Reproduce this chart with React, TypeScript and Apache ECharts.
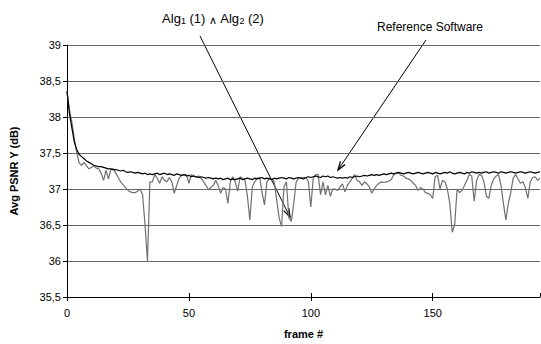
import React, { useEffect, useRef } from "react";
import * as echarts from "echarts";

const frames: number[] = Array.from({ length: 195 }, (_, i) => i);

const algValues: number[] = [
  38.36, 38.1, 37.93, 37.7, 37.5, 37.36, 37.33, 37.37, 37.32, 37.28,
  37.3, 37.32, 37.29, 37.28, 37.22, 37.12, 37.26, 37.14, 37.27, 37.28,
  37.22, 37.16, 37.1, 37.06, 37.02, 36.98, 36.96, 36.95, 36.95, 36.97,
  37.0, 36.92, 36.5, 36.0, 37.1, 37.1, 37.2, 37.15, 37.08, 37.17,
  37.12, 37.1, 37.16, 37.1, 36.94, 37.05, 37.15, 37.19, 37.2, 37.2,
  37.08, 37.2, 37.18, 37.16, 37.18, 37.15, 37.1, 37.05, 36.99, 37.02,
  37.05, 37.12, 37.05, 36.94, 37.02, 37.0, 36.8, 37.1, 37.17, 37.1,
  36.97, 37.17, 37.15, 37.12, 36.9, 36.57, 37.03, 37.1, 37.15, 37.16,
  36.95, 36.78, 37.1, 37.15, 37.14, 37.1, 36.85, 36.6, 36.48, 37.03,
  37.1, 36.6, 36.55, 36.8, 37.1, 37.15, 37.15, 37.16, 37.16, 37.1,
  36.75, 37.15, 37.2, 37.2, 36.92, 37.1, 36.92, 37.05, 36.9, 37.0,
  37.0, 36.98, 37.03, 37.07, 36.96, 37.05, 37.1, 37.15, 37.2, 37.12,
  37.1, 37.05, 37.1, 37.07, 37.03, 36.94, 37.0, 37.05, 37.08, 37.1,
  37.09, 37.1, 37.11, 37.13, 37.2, 37.22, 37.22, 37.19, 37.18, 37.15,
  37.14, 37.12, 37.08, 37.05, 36.98, 37.02, 37.0, 36.95, 36.94, 36.92,
  36.87, 37.17, 37.19, 37.0, 37.12, 37.1, 37.0, 36.8, 36.4, 36.5,
  37.0, 36.95, 36.98, 37.05, 37.12, 37.2, 37.18, 36.83, 37.12, 37.2,
  37.19, 37.1, 36.9, 36.87, 37.05, 37.14, 37.18, 37.2, 37.05, 36.8,
  36.57, 36.8, 36.95, 37.15, 37.2, 37.14, 37.08, 37.1, 37.02, 36.87,
  37.1, 37.16, 37.17, 37.12, 37.15,
];

const refValues: number[] = [
  38.36, 38.05, 37.85, 37.65, 37.55, 37.48, 37.45, 37.42, 37.39, 37.37,
  37.35, 37.33, 37.32, 37.31, 37.31, 37.3, 37.29, 37.28, 37.28, 37.27,
  37.27, 37.26, 37.25, 37.26, 37.24, 37.23, 37.24, 37.23, 37.22, 37.23,
  37.22, 37.21, 37.22, 37.2, 37.21, 37.2, 37.21, 37.22, 37.2, 37.21,
  37.22, 37.2, 37.21, 37.2, 37.19, 37.21, 37.2, 37.19, 37.2, 37.18,
  37.19, 37.17, 37.18, 37.17, 37.16, 37.17, 37.16, 37.15, 37.16, 37.15,
  37.14, 37.15, 37.14, 37.15, 37.13, 37.14, 37.15, 37.13, 37.14, 37.13,
  37.14, 37.15, 37.13, 37.14, 37.15, 37.14, 37.13, 37.15, 37.14, 37.15,
  37.16, 37.14, 37.15, 37.14, 37.13, 37.15, 37.14, 37.15, 37.16, 37.15,
  37.14, 37.16, 37.15, 37.14, 37.15, 37.16, 37.15, 37.14, 37.16, 37.17,
  37.16, 37.17, 37.18, 37.17, 37.16, 37.18, 37.17, 37.18, 37.16, 37.17,
  37.16, 37.15, 37.16, 37.15, 37.16, 37.15, 37.17, 37.16, 37.17, 37.18,
  37.17, 37.18, 37.19, 37.18, 37.19, 37.2, 37.19, 37.2, 37.19, 37.2,
  37.21, 37.2, 37.21, 37.22, 37.21, 37.22, 37.23, 37.22, 37.21, 37.22,
  37.23, 37.22, 37.21, 37.22, 37.23, 37.22, 37.21, 37.22, 37.23, 37.22,
  37.21, 37.23, 37.22, 37.21, 37.22, 37.23, 37.22, 37.24, 37.22, 37.21,
  37.22, 37.23, 37.22, 37.21, 37.23, 37.22, 37.24, 37.23, 37.22, 37.23,
  37.22, 37.23, 37.24, 37.22, 37.23, 37.24, 37.23, 37.22, 37.24, 37.23,
  37.22, 37.23, 37.24, 37.23, 37.22, 37.23, 37.24, 37.23, 37.22, 37.23,
  37.24, 37.23, 37.22, 37.23, 37.24,
];

const xTicks: number[] = [0, 50, 100, 150];

const FONT = "Liberation Sans, Arial, sans-serif";

function arrow(x1: number, y1: number, x2: number, y2: number) {
  const ang = Math.atan2(y2 - y1, x2 - x1);
  const len = 9;
  const spread = 0.32;
  const a1 = ang + Math.PI - spread;
  const a2 = ang + Math.PI + spread;
  return [
    {
      type: "line",
      shape: { x1, y1, x2, y2 },
      style: { stroke: "#000", lineWidth: 1 },
      silent: true,
    },
    {
      type: "polyline",
      shape: {
        points: [
          [x2 + len * Math.cos(a1), y2 + len * Math.sin(a1)],
          [x2, y2],
          [x2 + len * Math.cos(a2), y2 + len * Math.sin(a2)],
        ],
      },
      style: { stroke: "#000", lineWidth: 1.3, fill: null },
      silent: true,
    },
  ];
}

export default function App() {
  const ref = useRef<HTMLDivElement>(null);
  useEffect(() => {
    document.body.style.margin = "0";
    const chart = echarts.init(ref.current!, undefined, { renderer: "svg" });
    const algData = frames.map((f, i) => [f, algValues[i]]);
    const refData = frames.map((f, i) => [f, refValues[i]]);
    chart.setOption({
      animation: false,
      backgroundColor: "#fff",
      grid: { left: 67, right: 1, top: 45, bottom: 47 },
      xAxis: [
        {
          type: "value",
          min: 0,
          max: 194,
          interval: 50,
          name: "frame #",
          nameLocation: "middle",
          nameGap: 31,
          nameTextStyle: { fontFamily: FONT, fontSize: 11, fontWeight: "bold", color: "#000" },
          axisLine: { show: true, lineStyle: { color: "#000", width: 1 } },
          axisTick: { show: true, length: 4, inside: false, lineStyle: { color: "#000" } },
          axisLabel: {
            fontFamily: FONT,
            fontSize: 11,
            color: "#000",
            margin: 10,
            showMaxLabel: false,
            formatter: (v: number) => (xTicks.includes(v) ? String(v) : ""),
          },
          splitLine: { show: false },
        },
        {
          type: "value",
          min: 0,
          max: 194,
          interval: 50,
          position: "bottom",
          axisLine: { show: false },
          axisTick: { show: true, length: 4, inside: true, lineStyle: { color: "#000" } },
          axisLabel: { show: false },
          splitLine: { show: false },
        },
      ],
      yAxis: {
        type: "value",
        min: 35.5,
        max: 39,
        interval: 0.5,
        name: "Avg PSNR Y (dB)",
        nameLocation: "middle",
        nameGap: 48,
        nameTextStyle: { fontFamily: FONT, fontSize: 11, fontWeight: "bold", color: "#000" },
        axisLine: { show: true, lineStyle: { color: "#000", width: 1 } },
        axisTick: { show: true, length: 4, lineStyle: { color: "#000" } },
        axisLabel: {
          fontFamily: FONT,
          fontSize: 11,
          color: "#000",
          margin: 6,
          formatter: (v: number) => String(v).replace(".", ","),
        },
        splitLine: { show: true, lineStyle: { color: "#666", width: 1 } },
      },
      series: [
        {
          type: "line",
          data: algData,
          showSymbol: false,
          symbol: "none",
          lineStyle: { color: "#707070", width: 1.2 },
          z: 2,
        },
        {
          type: "line",
          data: refData,
          showSymbol: false,
          symbol: "none",
          lineStyle: { color: "#000", width: 1.2 },
          z: 3,
        },
      ],
      graphic: [
        {
          type: "text",
          x: 213,
          y: 17,
          style: {
            text: "{a|Alg}{s|1}{a| (1) }{b|∧}{a| Alg}{s|2}{a| (2)}",
            align: "center",
            verticalAlign: "middle",
            rich: {
              a: { fontFamily: FONT, fontSize: 13, fill: "#000", verticalAlign: "bottom", lineHeight: 16 },
              s: { fontFamily: FONT, fontSize: 9, fill: "#000", verticalAlign: "bottom", lineHeight: 7 },
              b: { fontFamily: FONT, fontSize: 11, fill: "#000", verticalAlign: "bottom", lineHeight: 16 },
            },
          },
          silent: true,
        },
        {
          type: "text",
          x: 430,
          y: 27,
          style: {
            text: "Reference Software",
            fontFamily: FONT,
            fontSize: 12,
            fill: "#000",
            align: "center",
            verticalAlign: "middle",
          },
          silent: true,
        },
        ...arrow(200, 36, 290, 217),
        ...arrow(426, 40, 338, 170),
      ],
    });
    return () => chart.dispose();
  }, []);
  return <div ref={ref} style={{ width: 541, height: 344 }} />;
}
